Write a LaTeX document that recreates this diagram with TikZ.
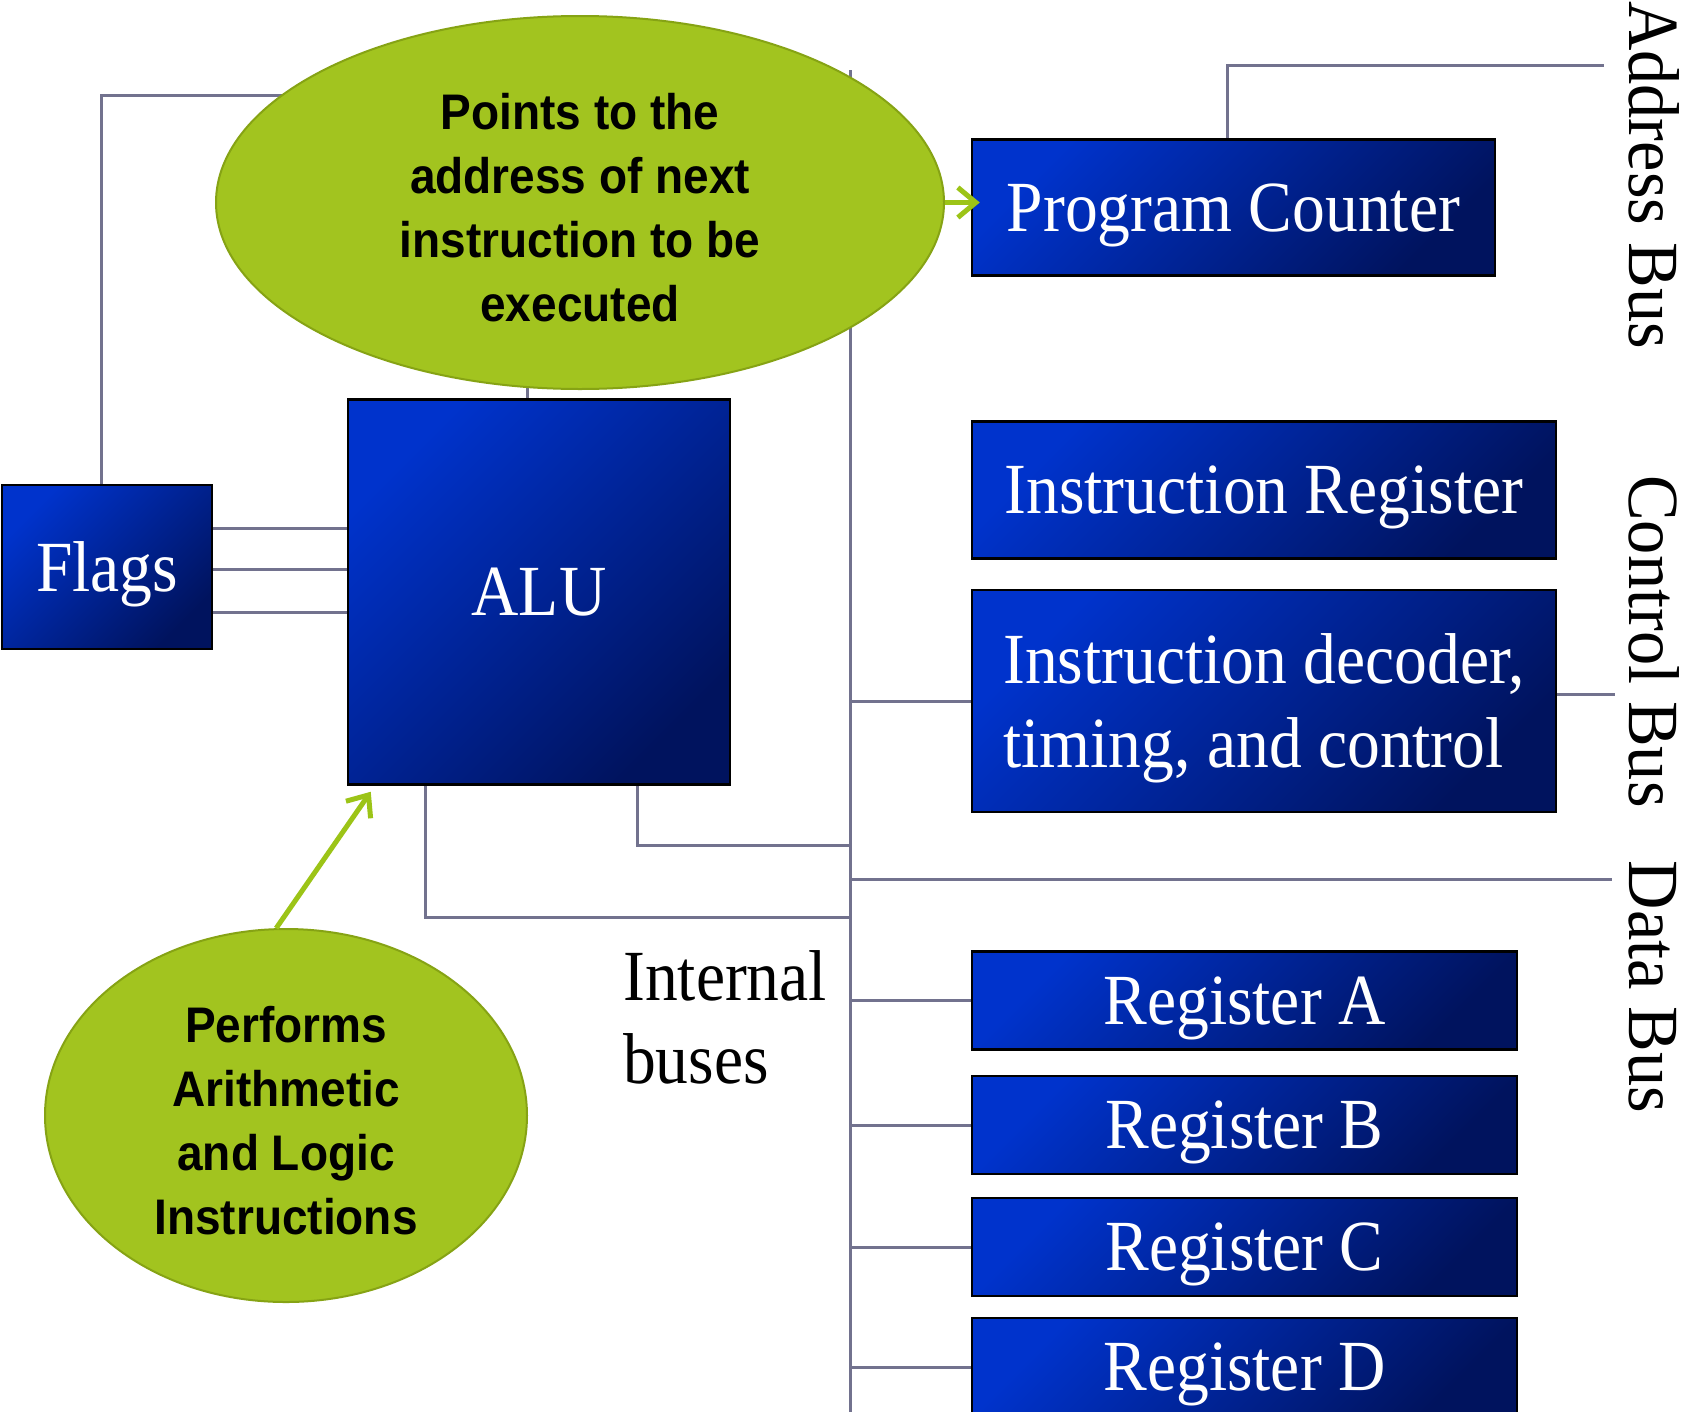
\documentclass[tikz,border=0pt]{standalone}
\usepackage{fontspec}
\newfontfamily\boxfont[FakeStretch=0.91]{Liberation Serif}
\newfontfamily\busfont[FakeStretch=0.95]{Liberation Serif}
\newfontfamily\notefont[FakeStretch=0.92]{Liberation Sans}
\usetikzlibrary{arrows.meta,shapes.geometric,calc,backgrounds}
\definecolor{boxhi}{HTML}{0033CC}
\definecolor{boxlo}{HTML}{00135E}
\definecolor{wiregray}{HTML}{72728E}
\definecolor{leaf}{HTML}{A2C41F}
\definecolor{leafedge}{HTML}{86A314}
\definecolor{leafarrow}{HTML}{9CC417}
\begin{document}
\begin{tikzpicture}[x=1pt,y=-1pt,
  unit/.style={draw=black, line width=2.5pt, top color=boxhi, bottom color=boxlo, shading angle=45,
    text=white, inner sep=0pt, text depth=0pt, font=\boxfont\fontsize{72}{84}\selectfont},
  wire/.style={draw=wiregray, line width=3pt},
  note/.style={ellipse, fill=leaf, draw=leafedge, line width=2pt, inner sep=0pt},
  notetext/.style={align=center, inner sep=0pt, font=\notefont\bfseries\fontsize{50}{64}\selectfont},
  buslabel/.style={rotate=-90, anchor=base, inner sep=0pt, font=\busfont\fontsize{72}{84}\selectfont},
  plainlabel/.style={inner sep=0pt, font=\boxfont\fontsize{72}{83}\selectfont},
  pointer/.style={draw=leafarrow, line width=5pt, -{Straight Barb[length=18pt,width=30pt]}}
]
\useasboundingbox (0,0) rectangle (1691,1411);

% blue units
\node[unit, minimum width=523pt, minimum height=136pt] (pc) at (1233.5,207.5) {Program Counter};
\node[unit, minimum width=584pt, minimum height=137pt] (ir) at (1264,490) {Instruction Register};
\node[unit, minimum width=584pt, minimum height=222pt, align=left] (dec) at (1264,701) {Instruction decoder,\\timing, and control};
\node[unit, minimum width=545pt, minimum height=98pt] (rega) at (1244.5,1000.5) {Register A};
\node[unit, minimum width=545pt, minimum height=98pt] (regb) at (1244.5,1125) {Register B};
\node[unit, minimum width=545pt, minimum height=98pt] (regc) at (1244.5,1247) {Register C};
\node[unit, minimum width=545pt, minimum height=98pt] (regd) at (1244.5,1367) {Register D};
\node[unit, minimum width=382pt, minimum height=385pt] (alu) at (539,592) {ALU};
\node[unit, minimum width=210pt, minimum height=164pt] (flags) at (107,567) {Flags};

% notes
\node[note, minimum width=728pt, minimum height=373pt] (pcnote) at (580,202.5) {};
\node[notetext] (pcnotetext) at (580,208) {Points to the\\address of next\\instruction to be\\executed};
\node[note, minimum width=482pt, minimum height=373pt] (alunote) at (286,1115.5) {};
\node[notetext] (alunotetext) at (286,1121) {Performs\\Arithmetic\\and Logic\\Instructions};

% labels
\node[plainlabel, anchor=west, align=left] (internal) at (623,1017) {Internal\\buses};
\node[buslabel] (abus) at (1629,175) {Address Bus};
\node[buslabel] (cbus) at (1629,641.5) {Control Bus};
\node[buslabel] (dbus) at (1629,987) {Data Bus};

% bus coordinates
\coordinate (bustop) at (850,70);
\coordinate (busbot) at (850,1425);
\coordinate (topjoin) at (850,95);
\coordinate (tapalu1) at (850,917);
\coordinate (tapalu2) at (850,845);
\coordinate (abend) at (1604,65);
\coordinate (cbend) at (1615,694);
\coordinate (dbend) at (1612,879);

\begin{pgfonlayer}{background}
\fill[white] (0,0) rectangle (1691,1411);
\draw[wire] (bustop) -- (busbot);
\draw[wire] ($(flags.north)+(-6,0)$) |- (topjoin);
\draw[wire] ($(alu.north)+(-12,0)$) -- ($(alu.north |- topjoin)+(-12,0)$);
\draw[wire] ($(flags.east)+(0,-39)$) -- ($(flags.east -| alu.west)+(0,-39)$);
\draw[wire] ($(flags.east)+(0,2)$) -- ($(flags.east -| alu.west)+(0,2)$);
\draw[wire] ($(flags.east)+(0,45.5)$) -- ($(flags.east -| alu.west)+(0,45.5)$);
\draw[wire] ($(alu.south west)+(79,0)$) |- (tapalu1);
\draw[wire] ($(alu.south west)+(291,0)$) |- (tapalu2);
\draw[wire] (dec.west) -- (dec.west -| bustop);
\draw[wire] (rega.west) -- (rega.west -| bustop);
\draw[wire] (regb.west) -- (regb.west -| bustop);
\draw[wire] (regc.west) -- (regc.west -| bustop);
\draw[wire] (regd.west) -- (regd.west -| bustop);
\draw[wire] ($(pc.north)+(-6.5,0)$) |- (abend);
\draw[wire] ($(dec.east)+(0,-7)$) -- (cbend);
\draw[wire] (bustop |- dbend) -- (dbend);
\end{pgfonlayer}

% pointers
\coordinate (pctip) at ($(pcnote.east -| pc.west)+(9,0)$);
\coordinate (alutip) at ($(alu.south west)+(24,6)$);
\draw[pointer] (pcnote.east) -- (pctip);
\draw[pointer] (alunote.93) -- (alutip);
\end{tikzpicture}
\end{document}
